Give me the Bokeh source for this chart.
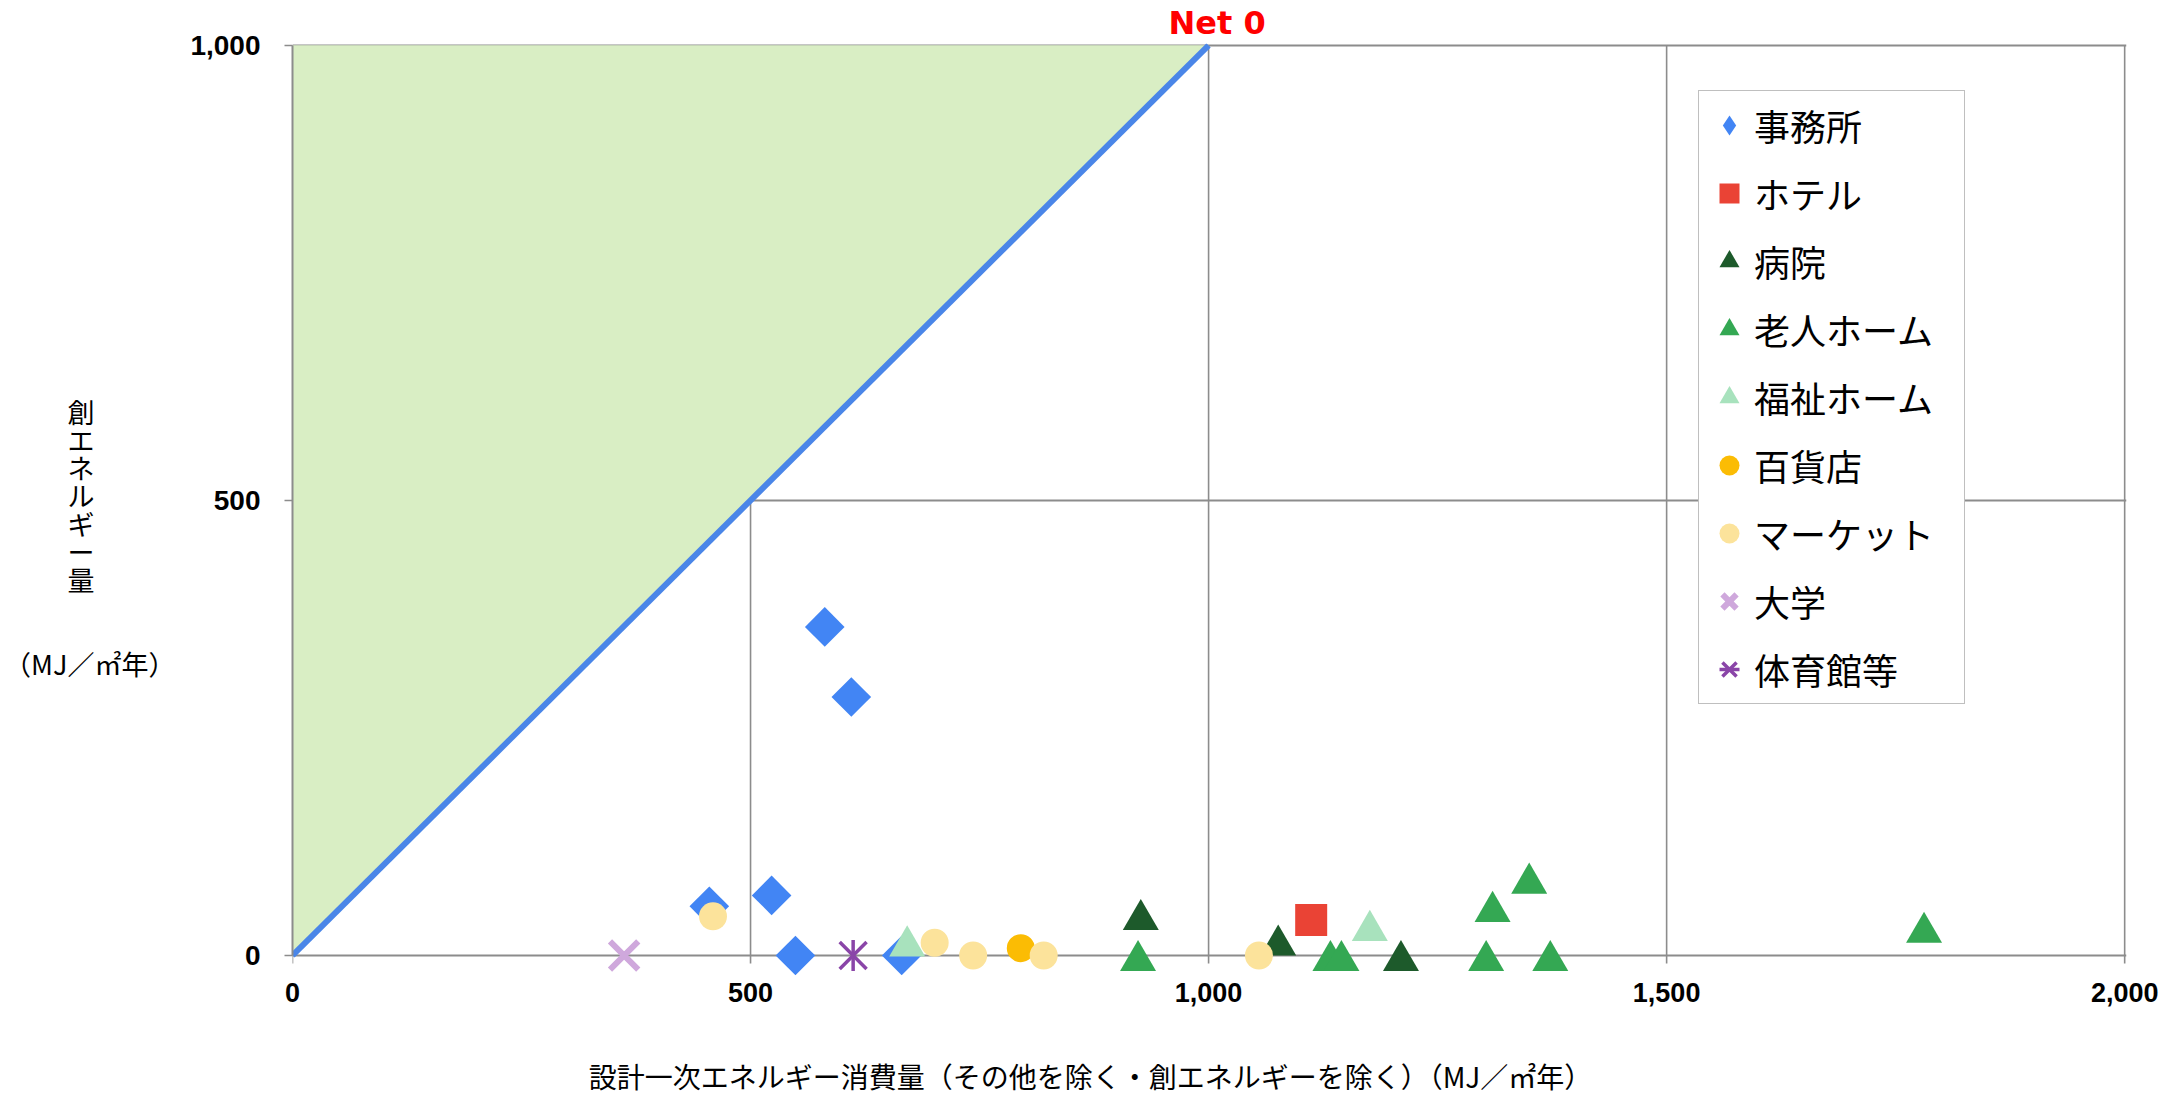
import math
from bokeh.plotting import figure
from bokeh.models import Range1d, Legend, LegendItem, NumeralTickFormatter, ColumnDataSource
from bokeh.transform import dodge
from bokeh.embed import file_html
from bokeh.resources import INLINE

# ---------------- data ----------------
categories = ["事務所", "ホテル", "病院", "老人ホーム", "福祉ホーム", "百貨店", "マーケット", "大学", "体育館等"]

office_x = [455, 523, 581, 610, 549, 665]
office_y = [54, 66, 361, 284, 0, 0]
hotel_x = [1112]
hotel_y = [39]
hospital_x = [926, 1076, 1210]
hospital_y = [45, 17, 0]
elderly_x = [923, 1133, 1145, 1303, 1310, 1350, 1373, 1781]
elderly_y = [0, 0, 0, 0, 54, 85, 0, 31]
welfare_x = [671, 1176]
welfare_y = [16, 33]
dept_x = [795]
dept_y = [8]
market_x = [459, 701, 743, 820, 1055]
market_y = [43, 14, 0, 0, 0]
univ_x = [362]
univ_y = [0]
gym_x = [612]
gym_y = [0]

net0_x = [0, 1000]
net0_y = [0, 1000]
zone_x = [0, 0, 1000]
zone_y = [0, 1000, 1000]

x_ticks = [0, 500, 1000, 1500, 2000]
y_ticks = [0, 500, 1000]

x_title = "設計一次エネルギー消費量（その他を除く・創エネルギーを除く）（MJ／㎡年）"
y_title_chars = list("創エネルギー量")
y_unit = "（MJ／㎡年）"
net0_label = "Net 0"

# ---------------- figure ----------------
GRID = "#8c8c8c"
TICK = 8.8   # tick length below the x axis, in y data units (about 8 px)
# the frame reaches a little below y=0 so that markers sitting on the axis are not cut
p = figure(width=2174, height=1098,
           x_range=Range1d(0, 2002), y_range=Range1d(-22, 1002),
           output_backend="svg", toolbar_location=None,
           min_border_left=292, min_border_right=48,
           min_border_top=43, min_border_bottom=123)
p.background_fill_color = "white"
p.border_fill_color = "white"
p.outline_line_color = None

# "Net 0" as the plot title, placed over the x=1000 gridline
p.title.text = net0_label
p.title.align = "left"
p.title.offset = 876
p.title.standoff = 0
p.title.vertical_align = "top"
p.title.text_font = "DejaVu Sans"
p.title.text_font_style = "bold"
p.title.text_font_size = "32px"
p.title.text_color = "#ff0000"

p.xaxis.ticker = x_ticks
p.yaxis.ticker = y_ticks
p.yaxis.bounds = (0, 1000)
for ax in (p.xaxis, p.yaxis):
    ax.formatter = NumeralTickFormatter(format="0,0")
    ax.axis_line_color = GRID
    ax.axis_line_width = 2
    ax.major_tick_line_color = GRID
    ax.major_tick_line_width = 1.5
    ax.major_tick_out = 8
    ax.major_tick_in = 0
    ax.minor_tick_line_color = None
    ax.major_label_text_font = "Liberation Sans"
    ax.major_label_text_font_style = "bold"
    ax.major_label_text_color = "black"
# the visible x axis line is the y=0 grid line; the bottom axis only carries the labels
p.xaxis.axis_line_color = None
p.xaxis.major_tick_line_color = None
p.xaxis.major_tick_out = 0
p.xaxis.major_label_text_font_size = "27px"
p.xaxis.major_label_standoff = 7
p.yaxis.major_label_text_font_size = "28px"
p.yaxis.major_label_standoff = 24

# x axis title (padded so that it sits left of the frame centre like the original)
p.xaxis.axis_label = x_title + "\u3000" * 9
p.xaxis.axis_label_text_font = "Noto Sans CJK JP"
p.xaxis.axis_label_text_font_size = "28px"
p.xaxis.axis_label_text_font_style = "normal"
p.xaxis.axis_label_text_color = "black"
p.xaxis.axis_label_standoff = 51

# y axis title: characters stacked vertically, unit line below
pad = "\u3000" * 3
p.yaxis.axis_label = "\n\n\n" + "\n".join(c + pad for c in y_title_chars) + "\n\n\n" + y_unit + "\n"
p.yaxis.axis_label_text_font = "Noto Sans CJK JP"
p.yaxis.axis_label_text_font_size = "27px"
p.yaxis.axis_label_text_font_style = "normal"
p.yaxis.axis_label_text_color = "black"
p.yaxis.axis_label_text_line_height = 0.719
p.yaxis.axis_label_standoff = 12
p.yaxis.axis_label_orientation = "horizontal"

# grid: horizontal lines from the y grid, vertical lines drawn over the 0..1000 span (+ tick)
p.ygrid.grid_line_color = GRID
p.ygrid.grid_line_width = 2
p.xgrid.grid_line_color = None
p.segment(x0=x_ticks, y0=[y_ticks[0] - TICK] * len(x_ticks), x1=x_ticks, y1=[y_ticks[-1]] * len(x_ticks),
          line_color=GRID, line_width=1.6)

# Net zero zone and line
p.patch(zone_x, zone_y, fill_color="#d9eec4", line_color=None)
p.line(net0_x, net0_y, line_color="#4a86e8", line_width=6)

# ---------------- markers ----------------
TRI = 36
tri_shift = -(TRI * math.sqrt(3) / 2) / 6 / 0.91   # centre the triangle's box on the point

src_hosp = ColumnDataSource(data=dict(x=hospital_x, y=hospital_y))
src_eld = ColumnDataSource(data=dict(x=elderly_x, y=elderly_y))
src_wel = ColumnDataSource(data=dict(x=welfare_x, y=welfare_y))

# diamond key for the legend (hidden under the rotated squares in the plot)
r_office_key = p.scatter(office_x, office_y, marker="diamond", size=26,
                         fill_color="#4285f4", line_color=None)
r_office = p.scatter(office_x, office_y, marker="square", size=28, angle=math.pi / 4,
                     fill_color="#4285f4", line_color=None)
r_hotel = p.scatter(hotel_x, hotel_y, marker="square", size=32,
                    fill_color="#ea4335", line_color=None)
r_hosp = p.scatter(x="x", y=dodge("y", tri_shift, range=p.y_range), marker="triangle", size=TRI,
                   fill_color="#1d5a2b", line_color=None, source=src_hosp)
r_eld = p.scatter(x="x", y=dodge("y", tri_shift, range=p.y_range), marker="triangle", size=TRI,
                  fill_color="#34a853", line_color=None, source=src_eld)
r_wel = p.scatter(x="x", y=dodge("y", tri_shift, range=p.y_range), marker="triangle", size=TRI,
                  fill_color="#a8e2bd", line_color=None, source=src_wel)
r_dept = p.scatter(dept_x, dept_y, marker="circle", size=28,
                   fill_color="#fbbc04", line_color=None)
r_mkt = p.scatter(market_x, market_y, marker="circle", size=28,
                  fill_color="#fce39b", line_color=None)
r_univ = p.scatter(univ_x, univ_y, marker="x", size=40,
                   line_color="#cfa8dc", line_width=6)
r_gym1 = p.scatter(gym_x, gym_y, marker="x", size=38,
                   line_color="#8a45a8", line_width=3.5)
r_gym2 = p.scatter(gym_x, gym_y, marker="dash", size=31, angle=math.pi / 2,
                   line_color="#8a45a8", line_width=3.5)

renderers = [[r_office_key], [r_hotel], [r_hosp], [r_eld], [r_wel], [r_dept], [r_mkt], [r_univ], [r_gym1, r_gym2]]
items = [LegendItem(label=c, renderers=r) for c, r in zip(categories, renderers)]
legend = Legend(items=items, location=(1406, 271),
                glyph_width=50, glyph_height=58, spacing=10, padding=5,
                label_standoff=0, label_width=205, label_height=58,
                label_text_font="Noto Sans CJK JP", label_text_font_size="36px",
                label_text_color="black",
                border_line_color="#7f7f7f", border_line_width=1.5,
                background_fill_color="white", background_fill_alpha=1.0)
p.add_layout(legend)

open("out.html", "w").write(file_html(p, INLINE))
